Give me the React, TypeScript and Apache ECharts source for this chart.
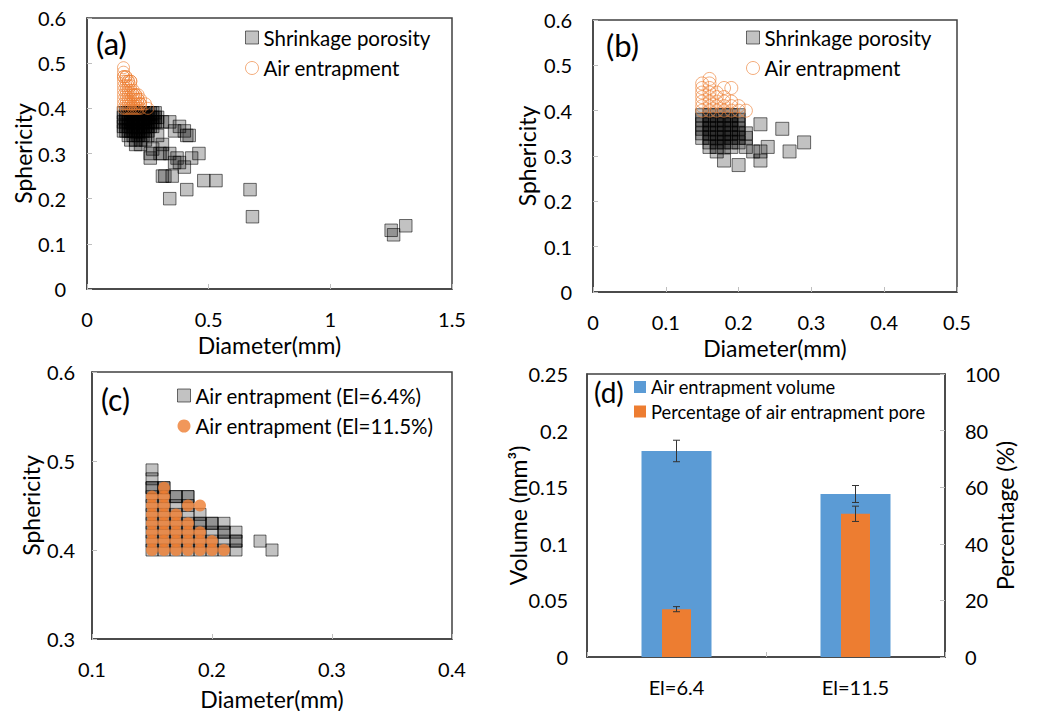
import React, { useEffect, useRef } from "react";
import * as echarts from "echarts";

const FONT = "Lato, 'Open Sans', sans-serif";

// Panel (a): shrinkage porosity [diameter (mm), sphericity]
const shrinkageA: number[][] = [
  [0.15, 0.39], [0.16, 0.39], [0.17, 0.39], [0.18, 0.39], [0.19, 0.39], [0.2, 0.39], [0.21, 0.39],
  [0.22, 0.39], [0.23, 0.39], [0.24, 0.39], [0.25, 0.39], [0.26, 0.39], [0.27, 0.39], [0.28, 0.39],
  [0.15, 0.38], [0.16, 0.38], [0.17, 0.38], [0.18, 0.38], [0.19, 0.38], [0.2, 0.38], [0.21, 0.38],
  [0.22, 0.38], [0.23, 0.38], [0.24, 0.38], [0.25, 0.38], [0.26, 0.38], [0.27, 0.38], [0.28, 0.38], [0.29, 0.38],
  [0.15, 0.37], [0.16, 0.37], [0.17, 0.37], [0.18, 0.37], [0.19, 0.37], [0.2, 0.37], [0.21, 0.37],
  [0.22, 0.37], [0.23, 0.37], [0.24, 0.37], [0.25, 0.37], [0.26, 0.37], [0.27, 0.37], [0.28, 0.37], [0.29, 0.37],
  [0.15, 0.36], [0.16, 0.36], [0.17, 0.36], [0.18, 0.36], [0.19, 0.36], [0.2, 0.36], [0.21, 0.36],
  [0.22, 0.36], [0.23, 0.36], [0.24, 0.36], [0.25, 0.36], [0.26, 0.36], [0.27, 0.36],
  [0.15, 0.35], [0.16, 0.35], [0.17, 0.35], [0.18, 0.35], [0.19, 0.35], [0.2, 0.35], [0.21, 0.35],
  [0.22, 0.35], [0.23, 0.35], [0.24, 0.35], [0.25, 0.35],
  [0.17, 0.34], [0.19, 0.34], [0.21, 0.34], [0.23, 0.34], [0.25, 0.34],
  [0.18, 0.33], [0.2, 0.33], [0.22, 0.33], [0.24, 0.33],
  [0.34, 0.37], [0.36, 0.35], [0.38, 0.36], [0.4, 0.35], [0.42, 0.34], [0.41, 0.34], [0.31, 0.37],
  [0.29, 0.34], [0.2, 0.32], [0.22, 0.32], [0.31, 0.32], [0.27, 0.31], [0.26, 0.3], [0.3, 0.3],
  [0.26, 0.29], [0.31, 0.3], [0.34, 0.3], [0.36, 0.28], [0.37, 0.29], [0.38, 0.28], [0.4, 0.27],
  [0.43, 0.29], [0.46, 0.3], [0.31, 0.25], [0.32, 0.25], [0.35, 0.25], [0.34, 0.2], [0.41, 0.22],
  [0.48, 0.24], [0.53, 0.24], [0.67, 0.22], [0.68, 0.16], [1.25, 0.13], [1.26, 0.12], [1.31, 0.14],
];

// Panel (b): shrinkage porosity [diameter (mm), sphericity]
const shrinkageB: number[][] = [
  [0.15, 0.39], [0.15, 0.38], [0.15, 0.37], [0.15, 0.36], [0.15, 0.35], [0.15, 0.34],
  [0.16, 0.39], [0.16, 0.38], [0.16, 0.37], [0.16, 0.36], [0.16, 0.35], [0.16, 0.34], [0.16, 0.33], [0.16, 0.32],
  [0.17, 0.39], [0.17, 0.38], [0.17, 0.37], [0.17, 0.36], [0.17, 0.35], [0.17, 0.34], [0.17, 0.33], [0.17, 0.32], [0.17, 0.31],
  [0.18, 0.39], [0.18, 0.38], [0.18, 0.37], [0.18, 0.36], [0.18, 0.35], [0.18, 0.34], [0.18, 0.33], [0.18, 0.32], [0.18, 0.29],
  [0.19, 0.39], [0.19, 0.38], [0.19, 0.37], [0.19, 0.36], [0.19, 0.35], [0.19, 0.34], [0.19, 0.33], [0.19, 0.32],
  [0.2, 0.39], [0.2, 0.38], [0.2, 0.37], [0.2, 0.36], [0.2, 0.35], [0.2, 0.34], [0.2, 0.33], [0.2, 0.28],
  [0.21, 0.35], [0.21, 0.34], [0.21, 0.32],
  [0.22, 0.31], [0.23, 0.31], [0.23, 0.29], [0.23, 0.37], [0.24, 0.32], [0.26, 0.36], [0.27, 0.31], [0.29, 0.33],
];

// Air entrapment pores, El = 6.4% (panel (a) circles, panel (c) squares)
const airEntrapment64: number[][] = [
  [0.15, 0.4], [0.15, 0.41], [0.15, 0.42], [0.15, 0.43], [0.15, 0.44], [0.15, 0.45], [0.15, 0.46], [0.15, 0.47], [0.15, 0.47], [0.15, 0.48], [0.15, 0.49],
  [0.16, 0.4], [0.16, 0.41], [0.16, 0.42], [0.16, 0.43], [0.16, 0.44], [0.16, 0.45], [0.16, 0.46], [0.16, 0.47], [0.16, 0.47],
  [0.17, 0.4], [0.17, 0.41], [0.17, 0.42], [0.17, 0.43], [0.17, 0.44], [0.17, 0.45], [0.17, 0.46], [0.17, 0.46],
  [0.18, 0.4], [0.18, 0.41], [0.18, 0.42], [0.18, 0.43], [0.18, 0.44], [0.18, 0.45], [0.18, 0.46], [0.18, 0.46],
  [0.19, 0.4], [0.19, 0.41], [0.19, 0.42], [0.19, 0.43], [0.19, 0.43], [0.19, 0.44],
  [0.2, 0.4], [0.2, 0.41], [0.2, 0.42], [0.2, 0.43], [0.2, 0.43],
  [0.21, 0.4], [0.21, 0.41], [0.21, 0.42], [0.21, 0.42], [0.21, 0.43],
  [0.22, 0.4], [0.22, 0.41], [0.22, 0.41], [0.22, 0.42],
  [0.24, 0.41], [0.25, 0.4],
];

// Air entrapment pores, El = 11.5% (panel (b) circles, panel (c) dots)
const airEntrapment115: number[][] = [
  [0.15, 0.4], [0.15, 0.41], [0.15, 0.42], [0.15, 0.43], [0.15, 0.44], [0.15, 0.45], [0.15, 0.46],
  [0.16, 0.4], [0.16, 0.41], [0.16, 0.42], [0.16, 0.43], [0.16, 0.44], [0.16, 0.45], [0.16, 0.46], [0.16, 0.47],
  [0.17, 0.4], [0.17, 0.41], [0.17, 0.42], [0.17, 0.43], [0.17, 0.44],
  [0.18, 0.4], [0.18, 0.41], [0.18, 0.42], [0.18, 0.43], [0.18, 0.45],
  [0.19, 0.4], [0.19, 0.41], [0.19, 0.42], [0.19, 0.45],
  [0.2, 0.4], [0.2, 0.41],
  [0.21, 0.4],
];

// Panel (d)
const barCategories = ["El=6.4", "El=11.5"];
const airVolume = [0.182, 0.144];
const airVolumeErr = [0.0095, 0.0075];
const airPercent = [16.9, 50.6];
const airPercentErr = [0.9, 2.7];

const SQUARE_STYLE = {
  color: "rgba(0,0,0,0.3)",
  borderColor: "rgba(0,0,0,0.7)",
  borderWidth: 1,
};
const HOLLOW_STYLE = {
  color: "rgba(255,255,255,0)",
  borderColor: "rgba(237,125,49,0.8)",
  borderWidth: 1,
};
const ORANGE = "#ED7D31";
const BLUE = "#5B9BD5";

const labelStyle = { color: "#000", fontSize: 20, fontFamily: FONT };
const nameStyle = { color: "#000", fontSize: 23, fontFamily: FONT };

function valueAxis(gridIndex: number, min: number, max: number, interval: number, extra: any = {}) {
  return {
    type: "value",
    gridIndex,
    min,
    max,
    interval,
    nameLocation: "middle",
    nameMoveOverlap: false,
    nameTextStyle: nameStyle,
    axisLine: { show: true, lineStyle: { color: "#404040", width: 1.5 } },
    axisTick: { show: true, inside: true, length: 5, lineStyle: { color: "#bfbfbf" } },
    splitLine: { show: false },
    axisLabel: { ...labelStyle, margin: 20 },
    ...extra,
  };
}

function errorBars(xAxisIndex: number, yAxisIndex: number, values: number[], errs: number[]) {
  return {
    type: "custom",
    xAxisIndex,
    yAxisIndex,
    silent: true,
    z: 10,
    encode: { x: 0, y: [1, 2] },
    data: values.map((v, i) => [i, v - errs[i], v + errs[i]]),
    renderItem: (_params: any, api: any) => {
      const lo = api.coord([api.value(0), api.value(1)]);
      const hi = api.coord([api.value(0), api.value(2)]);
      const hw = 3.5;
      const style = { stroke: "#333", lineWidth: 1 };
      return {
        type: "group",
        children: [
          { type: "line", shape: { x1: hi[0], y1: hi[1], x2: lo[0], y2: lo[1] }, style },
          { type: "line", shape: { x1: hi[0] - hw, y1: hi[1], x2: hi[0] + hw, y2: hi[1] }, style },
          { type: "line", shape: { x1: lo[0] - hw, y1: lo[1], x2: lo[0] + hw, y2: lo[1] }, style },
        ],
      };
    },
  };
}

function panelLabel(text: string, x: number, y: number, size: number) {
  return {
    type: "text",
    left: x,
    top: y,
    style: { text, fontSize: size, fontFamily: FONT, fill: "#000" },
  };
}

export default function App() {
  const ref = useRef<HTMLDivElement>(null);

  useEffect(() => {
    document.body.style.margin = "0";
    if (!ref.current) return;
    const chart = echarts.init(ref.current, undefined, { renderer: "svg" });

    const gridBase = { show: true, borderColor: "#404040", borderWidth: 1.5, backgroundColor: "#fff" };
    const legendText = { color: "#000", fontSize: 20.5, fontFamily: FONT };

    const option: any = {
      animation: false,
      backgroundColor: "#fff",
      grid: [
        { ...gridBase, left: 87, top: 18, width: 365, height: 271 },
        { ...gridBase, left: 593, top: 20, width: 364, height: 272 },
        { ...gridBase, left: 92, top: 372, width: 360, height: 269 },
        { ...gridBase, left: 587, top: 374, width: 358, height: 283 },
      ],
      xAxis: [
        valueAxis(0, 0, 1.5, 0.5, { name: "Diameter(mm)", nameGap: 44 }),
        valueAxis(1, 0, 0.5, 0.1, { name: "Diameter(mm)", nameGap: 44 }),
        valueAxis(2, 0.1, 0.4, 0.1, { name: "Diameter(mm)", nameGap: 48 }),
        {
          type: "category",
          gridIndex: 3,
          data: barCategories,
          axisLine: { show: true, lineStyle: { color: "#404040", width: 1.5 } },
          axisTick: { show: true, inside: true, length: 5, lineStyle: { color: "#bfbfbf" } },
          axisLabel: { ...labelStyle, margin: 20 },
        },
        { type: "category", gridIndex: 3, data: barCategories, show: false },
      ],
      yAxis: [
        valueAxis(0, 0, 0.6, 0.1, { name: "Sphericity", nameGap: 53, axisLabel: { ...labelStyle, margin: 21 } }),
        valueAxis(1, 0, 0.6, 0.1, { name: "Sphericity", nameGap: 55, axisLabel: { ...labelStyle, margin: 21 } }),
        valueAxis(2, 0.3, 0.6, 0.1, { name: "Sphericity", nameGap: 50, axisLabel: { ...labelStyle, margin: 17 } }),
        valueAxis(3, 0, 0.25, 0.05, {
          name: "Volume (mm³)",
          nameGap: 58,
          axisTick: { show: false },
          axisLabel: { ...labelStyle, margin: 19 },
        }),
        valueAxis(3, 0, 100, 20, {
          position: "right",
          name: "Percentage (%)",
          nameGap: 48,
          axisLabel: { ...labelStyle, margin: 20 },
        }),
      ],
      legend: [
        {
          left: 240, top: 22, orient: "vertical", itemGap: 9.5, itemWidth: 13, itemHeight: 13,
          textStyle: legendText, selectedMode: false,
          data: [
            { name: "Shrinkage porosity", icon: "rect", itemStyle: SQUARE_STYLE },
            { name: "Air entrapment", icon: "circle", itemStyle: HOLLOW_STYLE },
          ],
        },
        {
          left: 741, top: 22, orient: "vertical", itemGap: 9.5, itemWidth: 13, itemHeight: 13,
          textStyle: legendText, selectedMode: false,
          data: [
            { name: "Shrinkage porosity", icon: "rect", itemStyle: SQUARE_STYLE },
            { name: "Air entrapment", icon: "circle", itemStyle: HOLLOW_STYLE },
          ],
        },
        {
          left: 172, top: 380, orient: "vertical", itemGap: 9.5, itemWidth: 13, itemHeight: 13,
          textStyle: legendText, selectedMode: false,
          data: [
            { name: "Air entrapment (El=6.4%)", icon: "rect", itemStyle: SQUARE_STYLE },
            { name: "Air entrapment (El=11.5%)", icon: "circle", itemStyle: { color: ORANGE } },
          ],
        },
        {
          left: 629, top: 373, orient: "vertical", itemGap: 6.5, itemWidth: 12, itemHeight: 12,
          textStyle: { ...legendText, fontSize: 18.3 }, selectedMode: false,
          data: [
            { name: "Air entrapment volume", icon: "rect", itemStyle: { color: BLUE } },
            { name: "Percentage of air entrapment pore", icon: "rect", itemStyle: { color: ORANGE } },
          ],
        },
      ],
      graphic: [
        panelLabel("(a)", 96, 27, 31),
        panelLabel("(b)", 606, 29, 31),
        panelLabel("(c)", 101, 384, 30),
        panelLabel("(d)", 594, 378, 28),
      ],
      series: [
        {
          type: "scatter", name: "Shrinkage porosity", xAxisIndex: 0, yAxisIndex: 0,
          symbol: "rect", symbolSize: 12.5, itemStyle: SQUARE_STYLE, data: shrinkageA, silent: true,
        },
        {
          type: "scatter", name: "Air entrapment", xAxisIndex: 0, yAxisIndex: 0,
          symbol: "circle", symbolSize: 12, itemStyle: HOLLOW_STYLE, data: airEntrapment64, silent: true,
        },
        {
          type: "scatter", name: "Shrinkage porosity", xAxisIndex: 1, yAxisIndex: 1,
          symbol: "rect", symbolSize: 13, itemStyle: SQUARE_STYLE, data: shrinkageB, silent: true,
        },
        {
          type: "scatter", name: "Air entrapment", xAxisIndex: 1, yAxisIndex: 1,
          symbol: "circle", symbolSize: 13, itemStyle: HOLLOW_STYLE, data: airEntrapment115, silent: true,
        },
        {
          type: "scatter", name: "Air entrapment (El=6.4%)", xAxisIndex: 2, yAxisIndex: 2,
          symbol: "rect", symbolSize: 12, itemStyle: SQUARE_STYLE, data: airEntrapment64, silent: true,
        },
        {
          type: "scatter", name: "Air entrapment (El=11.5%)", xAxisIndex: 2, yAxisIndex: 2,
          symbol: "circle", symbolSize: 12, itemStyle: { color: ORANGE }, data: airEntrapment115, silent: true,
        },
        {
          type: "bar", name: "Air entrapment volume", xAxisIndex: 3, yAxisIndex: 3,
          barWidth: 70, itemStyle: { color: BLUE }, data: airVolume, silent: true,
        },
        {
          type: "bar", name: "Percentage of air entrapment pore", xAxisIndex: 4, yAxisIndex: 4,
          barWidth: 29, itemStyle: { color: ORANGE }, data: airPercent, silent: true, z: 3,
        },
        errorBars(3, 3, airVolume, airVolumeErr),
        errorBars(4, 4, airPercent, airPercentErr),
      ],
    };

    chart.setOption(option);
    return () => chart.dispose();
  }, []);

  return <div ref={ref} style={{ width: 1052, height: 711 }} />;
}
